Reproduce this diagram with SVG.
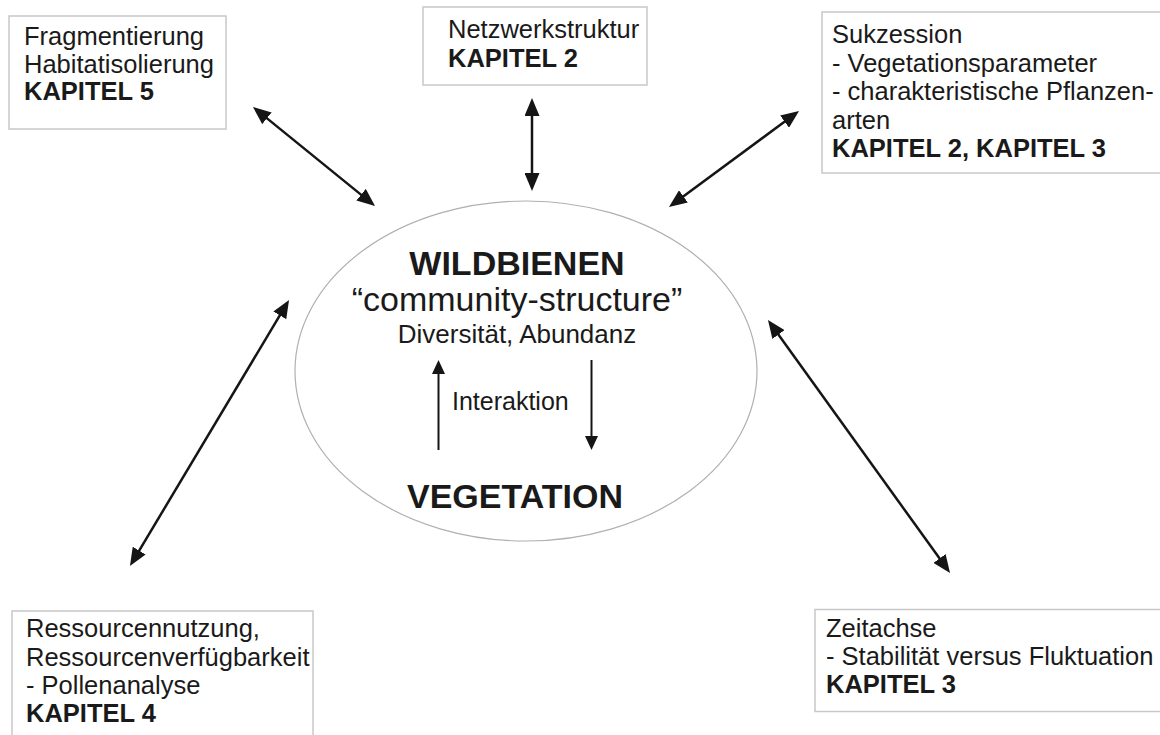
<svg xmlns="http://www.w3.org/2000/svg" width="1160" height="735" viewBox="0 0 1160 735">
<style>
.box{fill:#fff;stroke:#c8c8c8;stroke-width:1.5}
.t{font-family:"Liberation Sans",Arial,sans-serif;font-size:25.5px;fill:#1a1a1a}
.b{font-weight:bold}
.big{font-size:34px}
.conn{stroke:#151515;stroke-width:2.5;fill:none}
.inner{stroke:#151515;stroke-width:2;fill:none}
</style>
<defs>
<marker id="ah" viewBox="0 0 18 15" refX="7" refY="7.5" markerWidth="18" markerHeight="15" markerUnits="userSpaceOnUse" orient="auto-start-reverse">
<path d="M0,0 L18,7.5 L0,15 z" fill="#151515"/>
</marker>
<marker id="ahs" viewBox="0 0 14 13" refX="5" refY="6.5" markerWidth="14" markerHeight="13" markerUnits="userSpaceOnUse" orient="auto">
<path d="M0,0 L14,6.5 L0,13 z" fill="#151515"/>
</marker>
</defs>
<rect width="1160" height="735" fill="#fff"/>

<g id="center">
<ellipse cx="526" cy="371" rx="231" ry="170" fill="#fff" stroke="#b0b0b0" stroke-width="1.2"/>
<text class="t b big" x="517" y="275" text-anchor="middle">WILDBIENEN</text>
<text class="t big" x="517" y="311" text-anchor="middle">“community-structure”</text>
<text class="t" x="517" y="343" text-anchor="middle" style="font-size:26px">Diversität, Abundanz</text>
<text class="t" x="452" y="410" style="font-size:25px">Interaktion</text>
<text class="t b big" x="515" y="508" text-anchor="middle">VEGETATION</text>
</g>

<g id="n-fragmentierung">
<rect class="box" x="9" y="16" width="217" height="113"/>
<text class="t" x="24" y="45">Fragmentierung</text>
<text class="t" x="24" y="72.5">Habitatisolierung</text>
<text class="t b" x="24" y="100">KAPITEL 5</text>
</g>

<g id="n-netzwerk">
<rect class="box" x="423" y="7" width="224" height="78"/>
<text class="t" x="448" y="38">Netzwerkstruktur</text>
<text class="t b" x="448" y="67">KAPITEL 2</text>
</g>

<g id="n-sukzession">
<rect class="box" x="822" y="12" width="350" height="161"/>
<text class="t" x="832" y="42.5">Sukzession</text>
<text class="t" x="832" y="71.5">- Vegetationsparameter</text>
<text class="t" x="832" y="100">- charakteristische Pflanzen-</text>
<text class="t" x="832" y="128.5">arten</text>
<text class="t b" x="832" y="157">KAPITEL 2, KAPITEL 3</text>
</g>

<g id="n-ressourcen">
<rect class="box" x="12" y="611" width="301" height="140"/>
<text class="t" x="26" y="637">Ressourcennutzung,</text>
<text class="t" x="26" y="665.5">Ressourcenverfügbarkeit</text>
<text class="t" x="26" y="694">- Pollenanalyse</text>
<text class="t b" x="26" y="722">KAPITEL 4</text>
</g>

<g id="n-zeitachse">
<rect class="box" x="815" y="609.5" width="360" height="102"/>
<text class="t" x="826" y="636.5">Zeitachse</text>
<text class="t" x="826" y="664.5">- Stabilität versus Fluktuation</text>
<text class="t b" x="826" y="692.5">KAPITEL 3</text>
</g>

<g id="connectors">
<line class="conn" x1="261.5" y1="113.9" x2="366.5" y2="199.1" marker-start="url(#ah)" marker-end="url(#ah)"/>
<line class="conn" x1="532" y1="109" x2="532" y2="180" marker-start="url(#ah)" marker-end="url(#ah)"/>
<line class="conn" x1="677.8" y1="200.5" x2="790.2" y2="117.5" marker-start="url(#ah)" marker-end="url(#ah)"/>
<line class="conn" x1="135.6" y1="556.6" x2="283.4" y2="309.4" marker-start="url(#ah)" marker-end="url(#ah)"/>
<line class="conn" x1="774.4" y1="328.9" x2="943.6" y2="564.1" marker-start="url(#ah)" marker-end="url(#ah)"/>
<line class="inner" x1="438.5" y1="450" x2="438.5" y2="369" marker-end="url(#ahs)"/>
<line class="inner" x1="591.5" y1="360" x2="591.5" y2="441" marker-end="url(#ahs)"/>
</g>
</svg>
